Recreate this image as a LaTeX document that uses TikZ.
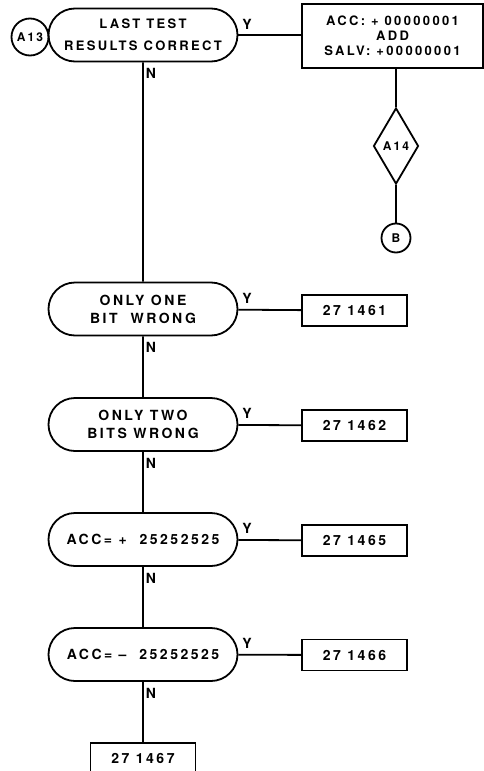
\documentclass[tikz,border=0pt]{standalone}
\usepackage{fontspec}
\setmainfont{TeX Gyre Heros}[LetterSpace=18]
\usetikzlibrary{shapes.misc,shapes.geometric}

\begin{document}
\begin{tikzpicture}[x=1pt, y=-1pt, line width=1.8pt,
    font=\bfseries\fontsize{14}{18}\selectfont,
    test/.style={rounded rectangle, draw, align=center, inner sep=0pt,
      minimum width=189pt, minimum height=53pt},
    result/.style={rectangle, draw, align=center, inner sep=0pt,
      minimum width=105pt, minimum height=31pt},
    connector/.style={circle, draw, inner sep=0pt,
      font=\bfseries\fontsize{12}{12}\selectfont},
    yes/.style={anchor=south west, inner sep=2pt, xshift=1pt, yshift=3pt},
    no/.style={anchor=north west, inner sep=2pt, yshift=-3pt}
  ]

  % Page frame
  \useasboundingbox (0,0) rectangle (483,771);

  % Entry point A13
  \node[test, font=\bfseries\fontsize{13}{18}\selectfont] (last) at (143,35)
    {LAST TEST\\[4pt]RESULTS CORRECT};
  \node[connector, minimum size=37pt] (a13) at (30,37) {A13};

  % Y branch of the first test
  \node[result, minimum width=181pt, minimum height=64pt,
    font=\bfseries\fontsize{13}{17}\selectfont] (acc) at (392.5,36)
    {ACC: + 00000001\\[-2pt]ADD\\[-2pt]SALV: +00000001};
  \node[diamond, draw, inner sep=0pt, minimum width=45pt, minimum height=76pt,
    font=\bfseries\fontsize{12}{12}\selectfont] (a14) at (396,146) {A14};
  \node[connector, minimum size=29pt] (b) at (396,238) {B};

  \draw (last.east) -- (last.east -| acc.west);
  \node[yes] at (last.east) {Y};
  \draw (acc.south -| a14.north) -- (a14.north);
  \draw (a14.south) -- (b.north);

  % Chain of tests
  \node[test] (one) at (143,309) {ONLY ONE\\BIT\ \ WRONG};
  \node[test] (two) at (143,424.5) {ONLY TWO\\BITS WRONG};
  \node[test] (plus) at (143,539.5) {ACC= + \ 25252525};
  \node[test] (minus) at (143,654.5) {ACC= -- \ 25252525};

  % Result boxes
  \node[result] (r1461) at (354.5,310.5) {27 1461};
  \node[result] (r1462) at (354.5,425.5) {27 1462};
  \node[result] (r1465) at (354.5,540.5) {27 1465};
  \node[result] (r1466) at (354.5,655) {27 1466};
  \node[result] (r1467) at (143,758.5) {27 1467};

  % N branches
  \draw (last) -- (one);
  \node[no] at (last.south) {N};
  \draw (one) -- (two);
  \node[no] at (one.south) {N};
  \draw (two) -- (plus);
  \node[no] at (two.south) {N};
  \draw (plus) -- (minus);
  \node[no] at (plus.south) {N};
  \draw (minus) -- (r1467);
  \node[no] at (minus.south) {N};

  % Y branches
  \draw (one) -- (r1461);
  \node[yes] at (one.east) {Y};
  \draw (two) -- (r1462);
  \node[yes] at (two.east) {Y};
  \draw (plus) -- (r1465);
  \node[yes] at (plus.east) {Y};
  \draw (minus) -- (r1466);
  \node[yes] at (minus.east) {Y};

\end{tikzpicture}
\end{document}
